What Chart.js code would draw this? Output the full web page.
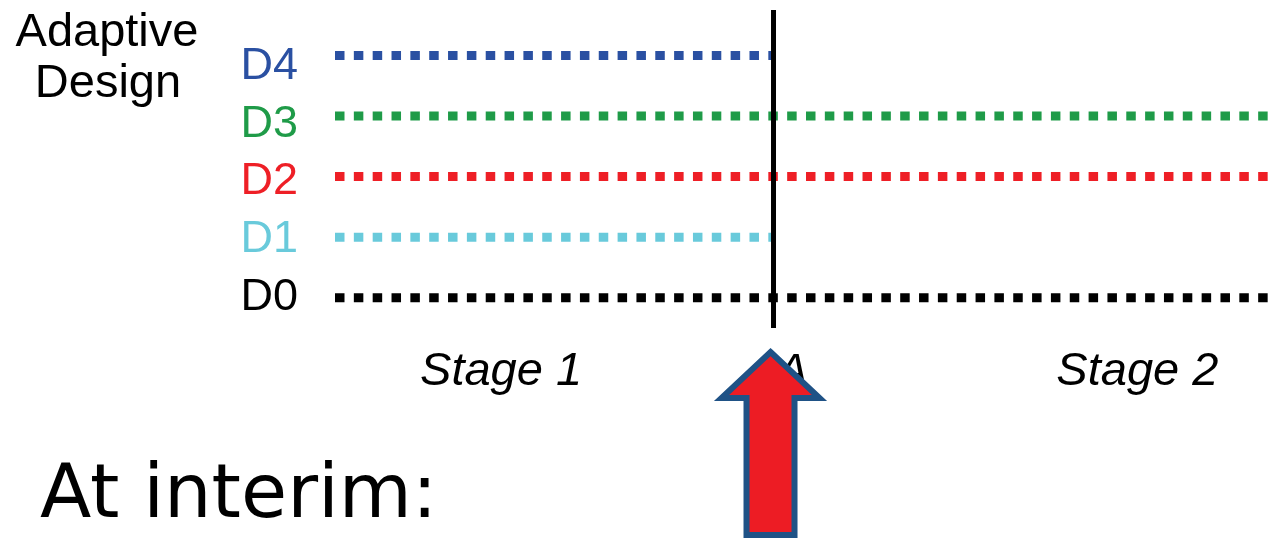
<!DOCTYPE html>
<html>
<head>
<meta charset="utf-8">
<script src="https://cdn.jsdelivr.net/npm/chart.js@4/dist/chart.umd.min.js"></script>
<style>
  html, body { margin: 0; padding: 0; background: #ffffff; }
  #wrap { width: 1268px; height: 539px; }
</style>
</head>
<body>
<div id="wrap"><canvas id="c" width="1268" height="539"></canvas></div>
<script>
// Design arms, bottom to top
const designs = ['D0', 'D1', 'D2', 'D3', 'D4'];
const designColors = ['#000000', '#69CADB', '#EE1F26', '#1F9B48', '#2A50A2'];
// Where each arm ends on the timeline (0 = start, 100 = end of study)
const armEnds = [100, 47, 100, 100, 47];
// Interim analysis time
const interimTime = 47;
// Stage captions and their centres on the timeline
const stageLabels = ['Stage 1', 'Stage 2'];
const stageCenters = [17.8, 86.0];
const titleLines = ['Adaptive', 'Design'];
const footerText = 'At interim:';

const datasets = [];
// interim marker first so it is painted over the arms
datasets.push({
  data: [{ x: interimTime, y: -0.5 }, { x: interimTime, y: 4.75 }],
  borderColor: '#000000',
  borderWidth: 5,
  pointRadius: 0,
  borderCapStyle: 'butt'
});
designs.forEach((d, i) => {
  datasets.push({
    label: d,
    data: [{ x: 0, y: i }, { x: armEnds[i], y: i }],
    borderColor: designColors[i],
    borderWidth: 9,
    borderDash: [9.5, 9.34],
    borderCapStyle: 'butt',
    pointRadius: 0
  });
});

const annotations = {
  id: 'annotations',
  afterDraw(chart) {
    const ctx = chart.ctx;
    const xs = chart.scales.x;
    ctx.save();
    ctx.fillStyle = '#000000';
    ctx.textBaseline = 'alphabetic';

    // heading at the top left
    ctx.font = '47px "Liberation Sans", Arial, sans-serif';
    ctx.textAlign = 'center';
    ctx.fillText(titleLines[0], 107, 46);
    ctx.fillText(titleLines[1], 108, 97);

    // stage captions
    ctx.font = 'italic 47px "Liberation Sans", Arial, sans-serif';
    stageLabels.forEach((s, i) => {
      ctx.fillText(s, xs.getPixelForValue(stageCenters[i]), 385);
    });

    const ix = xs.getPixelForValue(interimTime);
    // interim caption, mostly covered by the arrow
    ctx.textAlign = 'left';
    ctx.fillText('A', ix + 3, 386);

    // arrow pointing up at the interim
    const ax = ix - 3;
    const tipY = 352, headY = 398, headHalf = 49, shaftHalf = 24, baseY = 535;
    ctx.beginPath();
    ctx.moveTo(ax, tipY);
    ctx.lineTo(ax + headHalf, headY);
    ctx.lineTo(ax + shaftHalf, headY);
    ctx.lineTo(ax + shaftHalf, baseY);
    ctx.lineTo(ax - shaftHalf, baseY);
    ctx.lineTo(ax - shaftHalf, headY);
    ctx.lineTo(ax - headHalf, headY);
    ctx.closePath();
    ctx.fillStyle = '#ED1C24';
    ctx.fill();
    ctx.lineWidth = 6;
    ctx.lineJoin = 'miter';
    ctx.strokeStyle = '#1F5286';
    ctx.stroke();

    // footer
    ctx.fillStyle = '#000000';
    ctx.font = '75px "DejaVu Sans", sans-serif';
    ctx.fillText(footerText, 40, 517);
    ctx.restore();
  }
};

new Chart(document.getElementById('c'), {
  type: 'line',
  data: { datasets },
  options: {
    responsive: false,
    animation: false,
    devicePixelRatio: 1,
    layout: { autoPadding: false, padding: { top: 10, bottom: 211, left: 0, right: 0 } },
    plugins: { legend: { display: false }, tooltip: { enabled: false } },
    scales: {
      x: {
        type: 'linear', min: 0, max: 100, display: false
      },
      // value axis for the arms
      y: {
        type: 'linear', min: -0.5, max: 4.75, display: false
      },
      // name axis: the arm names sit a little closer together than the arms
      names: {
        type: 'linear', position: 'left', min: -0.52, max: 4.97,
        grid: { display: false },
        border: { display: false },
        afterBuildTicks(scale) {
          scale.ticks = designs.map((_, i) => ({ value: i }));
        },
        afterFit(scale) {
          scale.width = 335;
          scale.paddingTop = 0;
          scale.paddingBottom = 0;
        },
        ticks: {
          padding: 29,
          font: { family: '"Liberation Sans", Arial, sans-serif', size: 45 },
          color: (c) => designColors[c.index] || '#000',
          callback: (v) => designs[v]
        }
      }
    }
  },
  plugins: [annotations]
});
</script>
</body>
</html>
